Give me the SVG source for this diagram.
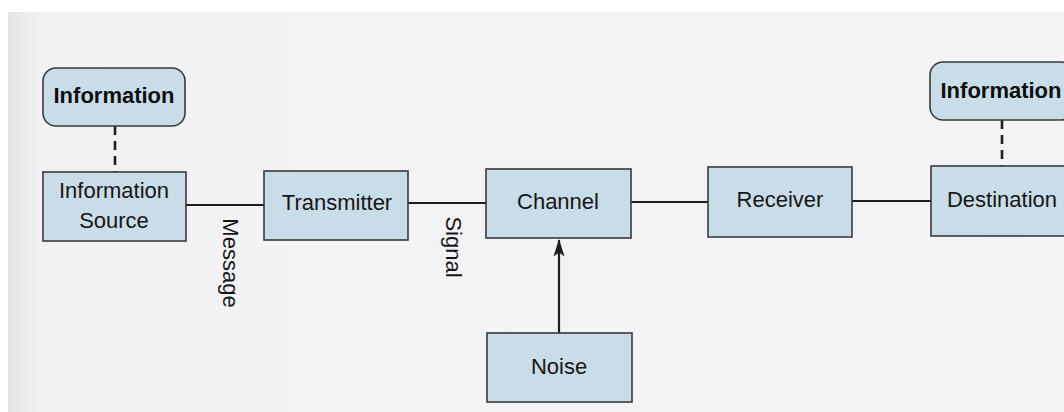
<svg xmlns="http://www.w3.org/2000/svg" width="1064" height="412" viewBox="0 0 1064 412">
  <defs>
    <linearGradient id="page" x1="0" y1="0" x2="1" y2="0">
      <stop offset="0" stop-color="#e4e4e6"/>
      <stop offset="0.03" stop-color="#f2f2f4"/>
      <stop offset="1" stop-color="#f4f4f6"/>
    </linearGradient>
    <marker id="arrow" viewBox="0 0 18 12" refX="17" refY="6" markerWidth="18" markerHeight="12" markerUnits="userSpaceOnUse" orient="auto">
      <path d="M18,6 L0.5,0.5 L4.5,6 L0.5,11.5 Z" fill="#1e1e1e"/>
    </marker>
    <style>
      .box { fill: #c9dde8; stroke: #3a3a3a; stroke-width: 1.6; }
      .lbl { font-family: "Liberation Sans", Arial, sans-serif; font-size: 22px; fill: #161616; text-anchor: middle; }
      .bold { font-weight: bold; fill: #0e0e0e; }
      .wire { stroke: #1e1e1e; stroke-width: 2.2; fill: none; }
      .dash { stroke: #1e1e1e; stroke-width: 2.6; fill: none; stroke-dasharray: 9 6; }
    </style>
  </defs>

  <rect x="0" y="0" width="1064" height="412" fill="#ffffff"/>
  <rect x="8" y="12" width="1056" height="400" fill="url(#page)"/>

  <g id="connectors">
    <line class="dash" x1="115" y1="126" x2="115" y2="172"/>
    <line class="dash" x1="1002" y1="120" x2="1002" y2="166"/>
    <line class="wire" x1="186" y1="205" x2="264" y2="205"/>
    <line class="wire" x1="408" y1="203" x2="486" y2="203"/>
    <line class="wire" x1="631" y1="202" x2="708" y2="202"/>
    <line class="wire" x1="852" y1="201" x2="931" y2="201"/>
    <line class="wire" x1="559" y1="333" x2="559" y2="240" marker-end="url(#arrow)"/>
    <text class="lbl" transform="translate(223,263) rotate(90)">Message</text>
    <text class="lbl" transform="translate(446,247) rotate(90)">Signal</text>
  </g>

  <g id="info-left">
    <rect class="box" x="43" y="68" width="142" height="58" rx="13"/>
    <text class="lbl bold" x="114" y="103">Information</text>
  </g>

  <g id="info-right">
    <rect class="box" x="930" y="62" width="144" height="58" rx="13"/>
    <text class="lbl bold" x="1001" y="98">Information</text>
  </g>

  <g id="source">
    <rect class="box" x="43" y="172" width="143" height="69"/>
    <text class="lbl" x="114" y="198">Information</text>
    <text class="lbl" x="114" y="228">Source</text>
  </g>

  <g id="transmitter">
    <rect class="box" x="264" y="171" width="144" height="69"/>
    <text class="lbl" x="337" y="210">Transmitter</text>
  </g>

  <g id="channel">
    <rect class="box" x="486" y="169" width="145" height="69"/>
    <text class="lbl" x="558" y="209">Channel</text>
  </g>

  <g id="receiver">
    <rect class="box" x="708" y="167" width="144" height="70"/>
    <text class="lbl" x="780" y="207">Receiver</text>
  </g>

  <g id="destination">
    <rect class="box" x="931" y="166" width="144" height="70"/>
    <text class="lbl" x="1002" y="207">Destination</text>
  </g>

  <g id="noise">
    <rect class="box" x="487" y="333" width="145" height="69"/>
    <text class="lbl" x="559" y="374">Noise</text>
  </g>
</svg>
